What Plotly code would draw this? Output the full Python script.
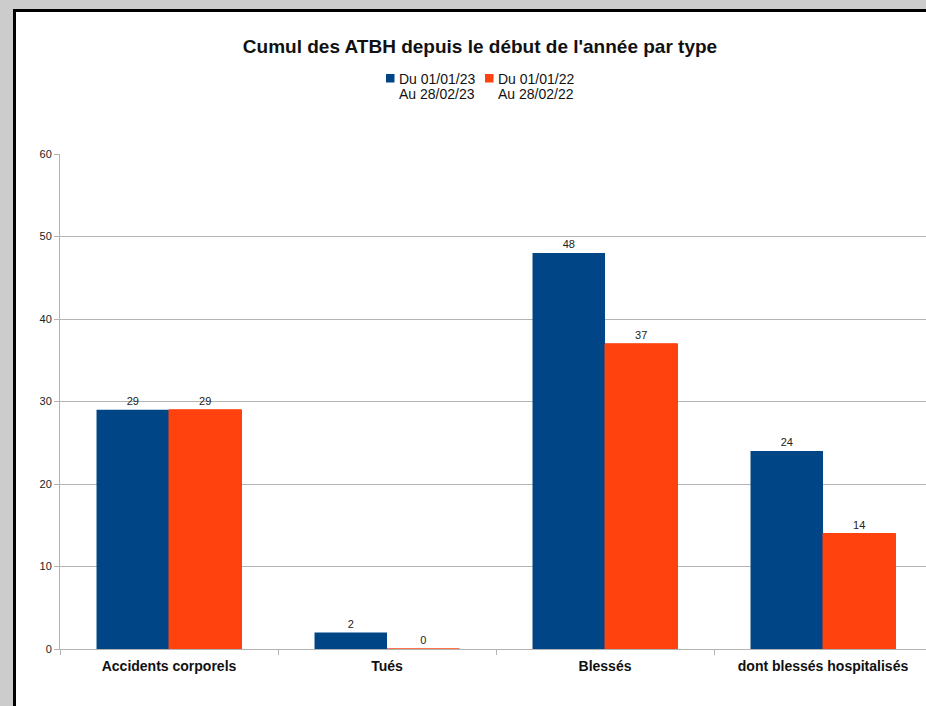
import plotly.graph_objects as go

categories = ["Accidents corporels", "Tués", "Blessés", "dont blessés hospitalisés"]
series_2023 = [29, 2, 48, 24]
series_2022 = [29, 0, 37, 14]
name_2023 = ["Du 01/01/23", "Au 28/02/23"]
name_2022 = ["Du 01/01/22", "Au 28/02/22"]
title_text = "Cumul des ATBH depuis le début de l'année par type"

BLUE = "#004586"
ORANGE = "#ff420e"
GRID = "#b3b3b3"
FONT = "Liberation Sans"

W, H = 926, 706
L, R, T, B = 60, 0, 154, 57
pw = W - L - R
ph = H - T - B


def px_to_x(px):
    return (px - L) / pw


def py_to_y(py):
    return (H - B - py) / ph


fig = go.Figure()
fig.add_trace(go.Bar(
    x=categories, y=series_2023, name="<br>".join(name_2023),
    marker=dict(color=BLUE, line=dict(width=0)),
    text=[str(v) for v in series_2023], textposition="outside",
    textfont=dict(family=FONT, size=11, color="#222222"),
    cliponaxis=False, showlegend=False,
))
fig.add_trace(go.Bar(
    x=categories, y=series_2022, name="<br>".join(name_2022),
    marker=dict(color=ORANGE, line=dict(width=1, color=ORANGE)),
    text=[str(v) for v in series_2022], textposition="outside",
    textfont=dict(family=FONT, size=11, color="#222222"),
    cliponaxis=False, showlegend=False,
))

# white framed panel
fig.add_shape(
    type="rect", xref="paper", yref="paper",
    x0=px_to_x(14.5), x1=px_to_x(W + 20),
    y0=py_to_y(H + 20), y1=py_to_y(10.5),
    fillcolor="white", line=dict(color="black", width=3),
    layer="below",
)

# legend (drawn as key squares + text)
legend_entries = [(BLUE, name_2023, 386), (ORANGE, name_2022, 485)]
for color, lines, sx in legend_entries:
    fig.add_shape(
        type="rect", xref="paper", yref="paper",
        x0=px_to_x(sx), x1=px_to_x(sx + 8.5),
        y0=py_to_y(82.5), y1=py_to_y(74),
        fillcolor=color, line=dict(width=0), layer="above",
    )
    for i, line in enumerate(lines):
        fig.add_annotation(
            xref="paper", yref="paper",
            x=px_to_x(sx + 12), y=py_to_y(78.5 + 15.7 * i),
            xanchor="left", yanchor="middle", showarrow=False,
            text=line, borderpad=0,
            font=dict(family=FONT, size=14, color="#111111"),
        )

fig.update_layout(
    width=W, height=H,
    margin=dict(l=L, r=R, t=T, b=B, pad=0),
    paper_bgcolor="#cccccc",
    plot_bgcolor="white",
    font=dict(family=FONT, color="#222222"),
    barmode="group", bargap=0.335, bargroupgap=0,
    title=dict(
        text=title_text, xref="container", yref="container",
        x=480 / W, xanchor="center", y=1 - 46 / H, yanchor="middle",
        font=dict(family=FONT, size=19, color="#111111", weight="bold"),
    ),
    showlegend=False,
    xaxis=dict(
        type="category", range=[-0.5, -0.5 + pw / 218.0],
        showgrid=False, showline=True, linecolor=GRID, linewidth=1,
        ticks="outside", tickson="boundaries", ticklen=5, tickcolor=GRID,
        ticklabelstandoff=4,
        tickfont=dict(family=FONT, size=14, color="#111111", weight="bold"),
        fixedrange=True,
    ),
    yaxis=dict(
        range=[0, 60], dtick=10, showgrid=True, gridcolor=GRID, gridwidth=1,
        showline=True, linecolor=GRID, linewidth=1, zeroline=False,
        ticks="outside", ticklen=5, tickcolor=GRID,
        tickfont=dict(family=FONT, size=11, color="#222222"),
        fixedrange=True,
    ),
)

fig.write_html(
    "out.html",
    config={"displayModeBar": False},
    post_script="document.body.style.margin='0';document.body.style.overflow='hidden';",
)
